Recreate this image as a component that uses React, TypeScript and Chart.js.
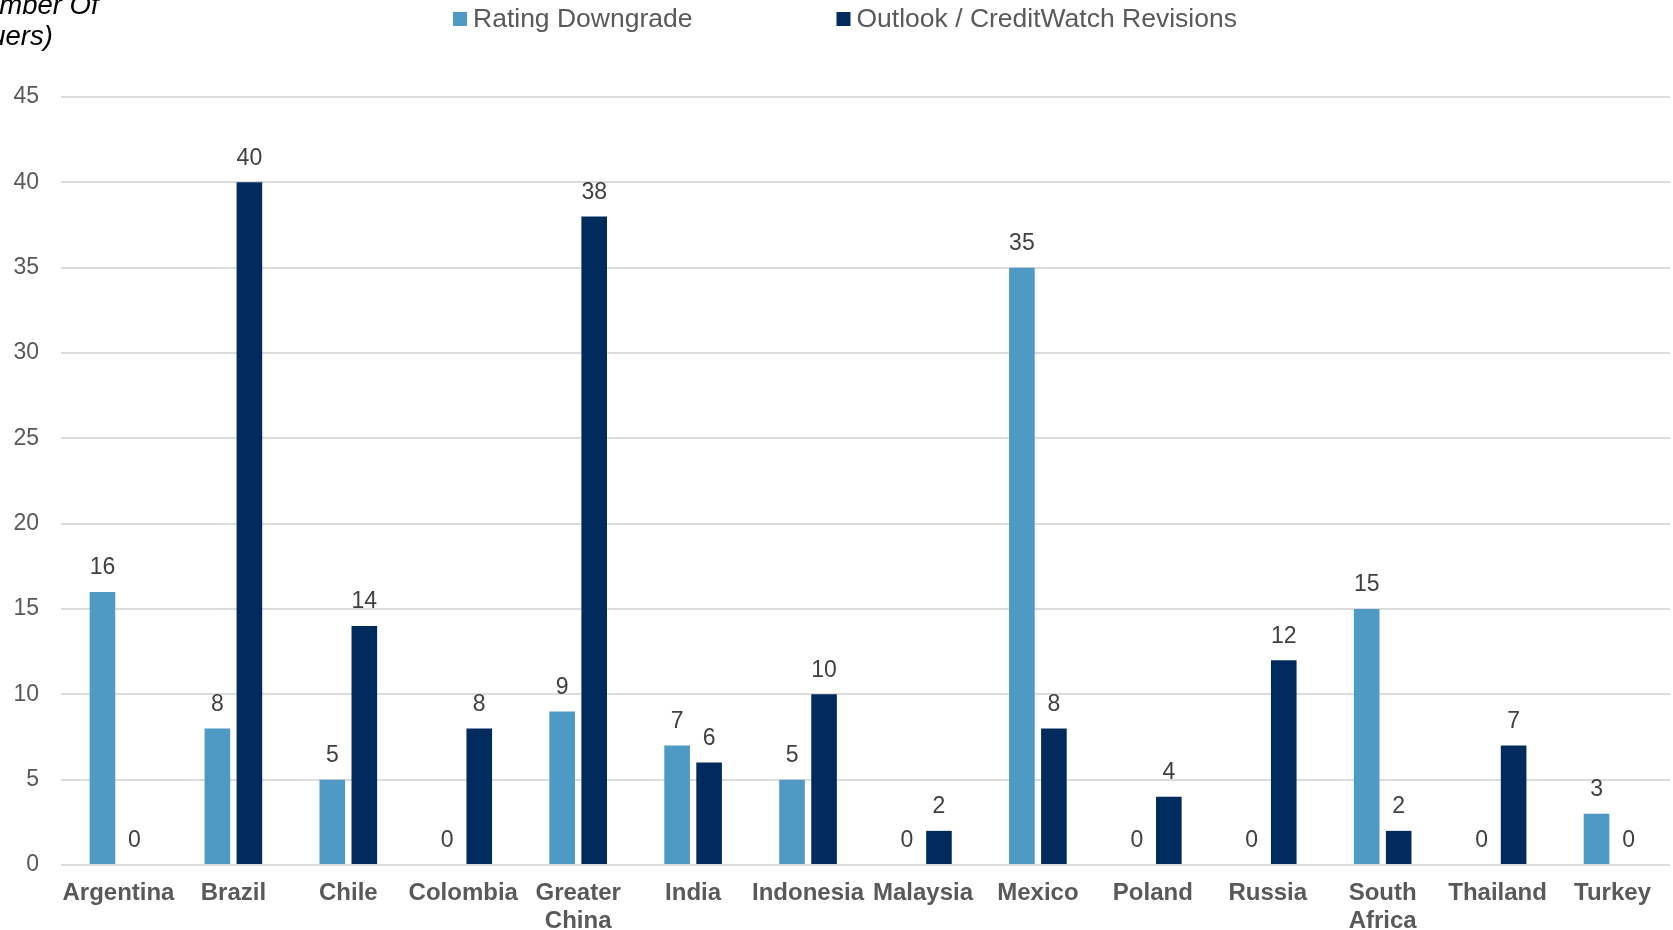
import React, { useEffect, useRef } from "react";
import { Chart, registerables } from "chart.js";

Chart.register(...registerables);

const categories: (string | string[])[] = [
  "Argentina", "Brazil", "Chile", "Colombia", ["Greater", "China"], "India", "Indonesia",
  "Malaysia", "Mexico", "Poland", "Russia", ["South", "Africa"], "Thailand", "Turkey",
];
const ratingDowngrade = [16, 8, 5, 0, 9, 7, 5, 0, 35, 0, 0, 15, 0, 3];
const outlookRevisions = [0, 40, 14, 8, 38, 6, 10, 2, 8, 4, 12, 2, 7, 0];
const seriesLabels = ["Rating Downgrade", "Outlook / CreditWatch Revisions"];
const seriesColors = ["#4F9AC4", "#002B5C"];
const yTitleLines = ["(Number Of", "Issuers)"];

const FONT = '"Liberation Sans", Arial, sans-serif';

const dataLabelPlugin = {
  id: "dataLabels",
  afterDatasetsDraw(chart: any) {
    const ctx = chart.ctx;
    ctx.save();
    ctx.font = `23px ${FONT}`;
    ctx.fillStyle = "#404040";
    ctx.textAlign = "center";
    ctx.textBaseline = "middle";
    chart.data.datasets.forEach((ds: any, i: number) => {
      const meta = chart.getDatasetMeta(i);
      meta.data.forEach((el: any, j: number) => {
        ctx.fillText(String(ds.data[j]), el.x, el.y - 24);
      });
    });
    ctx.restore();
  },
};

const legendAndTitlePlugin = {
  id: "customLegend",
  afterDraw(chart: any) {
    const ctx = chart.ctx;
    ctx.save();
    // legend
    ctx.font = `26.5px ${FONT}`;
    ctx.textBaseline = "middle";
    ctx.textAlign = "left";
    let x = 453;
    const cy = 19;
    chart.data.datasets.forEach((ds: any) => {
      ctx.fillStyle = ds.backgroundColor;
      ctx.fillRect(x, cy - 7, 14, 14);
      ctx.fillStyle = "#595959";
      ctx.fillText(ds.label, x + 20, cy + 1);
      const w = ctx.measureText(ds.label).width;
      x += 20 + w + 144;
    });
    // y-axis title (cropped at the left edge)
    ctx.font = `italic 27.5px ${FONT}`;
    ctx.fillStyle = "#000000";
    ctx.textBaseline = "alphabetic";
    ctx.fillText(yTitleLines[0], -45, 14);
    ctx.fillText(yTitleLines[1], -45, 45);
    ctx.restore();
  },
};

export default function App() {
  const ref = useRef<HTMLCanvasElement | null>(null);
  useEffect(() => {
    document.body.style.margin = "0";
    const canvas = ref.current!;
    const chart = new Chart(canvas, {
      type: "bar",
      data: {
        labels: categories as any,
        datasets: [
          {
            label: seriesLabels[0],
            data: ratingDowngrade,
            backgroundColor: seriesColors[0],
            categoryPercentage: 0.557,
            barPercentage: 0.8,
          },
          {
            label: seriesLabels[1],
            data: outlookRevisions,
            backgroundColor: seriesColors[1],
            categoryPercentage: 0.557,
            barPercentage: 0.8,
          },
        ],
      },
      options: {
        responsive: false,
        animation: false,
        layout: { padding: { top: 97, right: 3, left: 0, bottom: 0 } },
        plugins: {
          legend: { display: false },
          tooltip: { enabled: false },
          title: { display: false },
        },
        scales: {
          x: {
            grid: { display: false, drawTicks: false },
            border: { display: false },
            ticks: {
              autoSkip: false,
              maxRotation: 0,
              minRotation: 0,
              padding: 14,
              color: "#595959",
              font: { family: FONT, size: 24, weight: "bold", lineHeight: 28 / 24 },
            },
            afterFit(scale: any) {
              scale.height = 65;
            },
          },
          y: {
            min: 0,
            max: 45,
            grid: { color: "#DCDCDC", lineWidth: 2, drawTicks: false },
            border: { display: false },
            ticks: {
              stepSize: 5,
              padding: 22,
              color: "#595959",
              font: { family: FONT, size: 23 },
            },
            afterFit(scale: any) {
              scale.width = 61;
            },
          },
        },
      },
      plugins: [dataLabelPlugin, legendAndTitlePlugin],
    });
    return () => chart.destroy();
  }, []);
  return (
    <div style={{ width: 1673, height: 930, background: "#fff" }}>
      <canvas ref={ref} width={1673} height={930} style={{ display: "block" }} />
    </div>
  );
}
